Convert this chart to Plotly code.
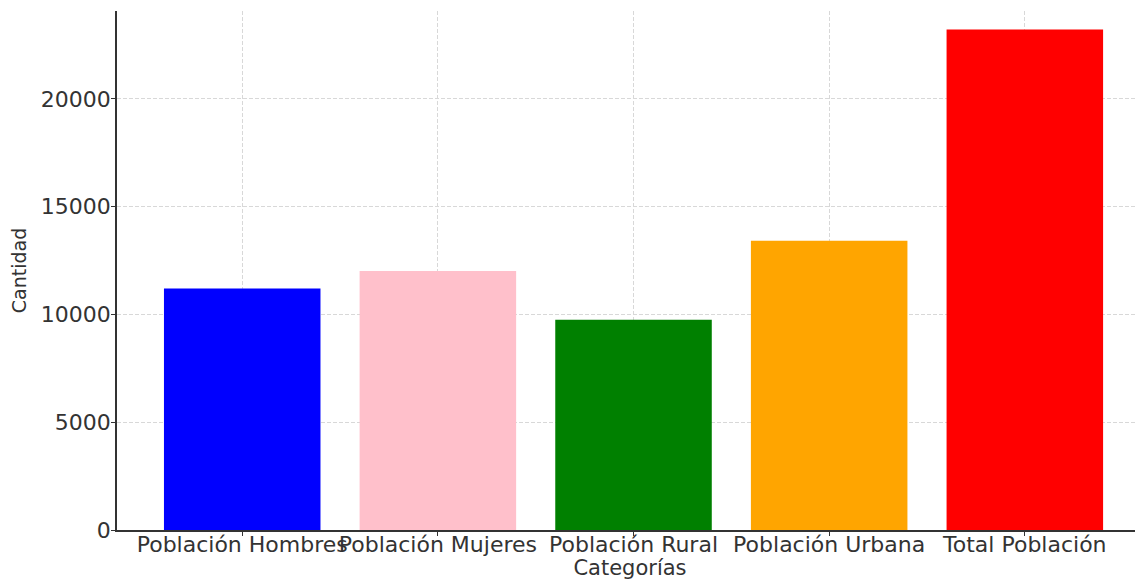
import plotly.graph_objects as go

categorias = ["Población Hombres", "Población Mujeres", "Población Rural",
              "Población Urbana", "Total Población"]
cantidad = [11200, 12020, 9750, 13420, 23220]
colores = ["blue", "pink", "green", "orange", "red"]
y_ticks = [0, 5000, 10000, 15000, 20000]

fig = go.Figure(go.Bar(
    x=categorias,
    y=cantidad,
    marker=dict(color=colores, line=dict(width=0)),
    width=0.8
))

axis_font = dict(family="DejaVu Sans", size=22, color="#333333")

fig.update_layout(
    width=1135,
    height=572,
    autosize=False,
    margin=dict(l=109, r=0, t=3, b=50),
    paper_bgcolor="white",
    plot_bgcolor="white",
    showlegend=False,
    font=dict(family="DejaVu Sans", color="#333333"),
    xaxis=dict(
        range=[-0.64, 4.604],
        tickangle=0,
        tickfont=axis_font,
        showgrid=True,
        gridcolor="#d8d8d8",
        griddash="4px,2px",
        gridwidth=1,
        layer="above traces",
        showline=True,
        linecolor="#333333",
        linewidth=1.5,
        ticks="outside",
        ticklen=4,
        tickcolor="#333333",
        ticklabelstandoff=-10,
        automargin=False,
        title=dict(text="Categorías", font=dict(family="DejaVu Sans", size=21, color="#333333"), standoff=0),
        zeroline=False,
    ),
    yaxis=dict(
        range=[0, 24080],
        tickvals=y_ticks,
        tickformat="d",
        tickfont=axis_font,
        showgrid=True,
        gridcolor="#d8d8d8",
        griddash="4px,2px",
        gridwidth=1,
        layer="above traces",
        showline=True,
        linecolor="#333333",
        linewidth=1.5,
        ticks="outside",
        ticklen=4,
        tickcolor="#333333",
        ticklabelstandoff=-4,
        automargin=False,
        title=dict(text="Cantidad", font=dict(family="DejaVu Sans", size=19, color="#333333"), standoff=12),
        zeroline=False,
    ),
)

fig.write_html("out.html")
